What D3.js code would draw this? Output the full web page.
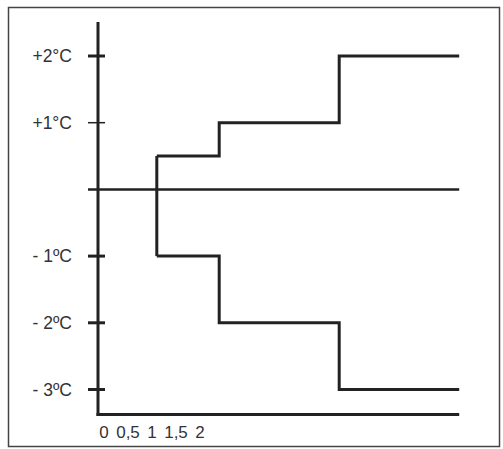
<!DOCTYPE html>
<html>
<head>
<meta charset="utf-8">
<script src="https://cdn.jsdelivr.net/npm/d3@7"></script>
<style>
  body { margin: 0; background: #fff; }
  svg { display: block; }
  text { font-family: "Liberation Sans", Arial, sans-serif; fill: #333; }
</style>
</head>
<body>
<div id="chart"></div>
<script>
// temperature levels on the y axis
var yTicks = [2, 1, -1, -2, -3];
var yLabels = ['+2°C', '+1°C', '- 1ºC', '- 2ºC', '- 3ºC'];

// x tick labels
var xTicks = [0, 0.5, 1, 1.5, 2];
var xLabels = ['0', '0,5', '1', '1,5', '2'];

// step series (x = time, y = temperature change)
var upperSteps = [
    { x: 1.1, y: 0.5 },
    { x: 2.4, y: 1 },
    { x: 4.9, y: 2 },
    { x: 7.4, y: 2 }
];
var lowerSteps = [
    { x: 1.1, y: -1 },
    { x: 2.4, y: -2 },
    { x: 4.9, y: -3 },
    { x: 7.4, y: -3 }
];

var width = 503, height = 449;

var svg = d3.select('#chart')
    .append('svg')
    .attr('width', width)
    .attr('height', height);

// outer frame
svg.append('rect')
    .attr('x', 8.5).attr('y', 7.5)
    .attr('width', 491).attr('height', 439)
    .attr('fill', 'none')
    .attr('stroke', '#444')
    .attr('stroke-width', 1.5);

var x = d3.scaleLinear().domain([0, 2]).range([104, 200]);
var y = d3.scaleLinear().domain([-3, 2]).range([389.5, 56]);

var ink = '#222';
var axisX = 98;
var xEnd = x(7.4);

// vertical axis
svg.append('line')
    .attr('x1', axisX).attr('x2', axisX)
    .attr('y1', 22).attr('y2', 416)
    .attr('stroke', ink).attr('stroke-width', 3);

// bottom axis
svg.append('line')
    .attr('x1', axisX - 1.5).attr('x2', xEnd)
    .attr('y1', 414.5).attr('y2', 414.5)
    .attr('stroke', ink).attr('stroke-width', 3);

// zero line
svg.append('line')
    .attr('x1', 88).attr('x2', xEnd)
    .attr('y1', y(0)).attr('y2', y(0))
    .attr('stroke', ink).attr('stroke-width', 2.5);

// y ticks
svg.selectAll('.ytick')
    .data(yTicks)
    .enter()
    .append('line')
    .attr('class', 'ytick')
    .attr('x1', 88).attr('x2', 105)
    .attr('y1', function(d) { return y(d); })
    .attr('y2', function(d) { return y(d); })
    .attr('stroke', ink)
    .attr('stroke-width', function(d) { return d === 1 ? 1.5 : 3; });

// y labels
svg.selectAll('.ylabel')
    .data(yTicks)
    .enter()
    .append('text')
    .attr('class', 'ylabel')
    .attr('x', 72)
    .attr('y', function(d) { return y(d) + 6; })
    .attr('text-anchor', 'end')
    .style('font-size', '17.5px')
    .text(function(d, i) { return yLabels[i]; });

// x labels
svg.selectAll('.xlabel')
    .data(xTicks)
    .enter()
    .append('text')
    .attr('class', 'xlabel')
    .attr('x', function(d) { return x(d); })
    .attr('y', 438)
    .attr('text-anchor', 'middle')
    .style('font-size', '17px')
    .text(function(d, i) { return xLabels[i]; });

// step lines
var step = d3.line()
    .x(function(d) { return x(d.x); })
    .y(function(d) { return y(d.y); })
    .curve(d3.curveStepAfter);

svg.append('path')
    .datum(upperSteps)
    .attr('d', step)
    .attr('fill', 'none')
    .attr('stroke', ink)
    .attr('stroke-width', 3);

svg.append('path')
    .datum(lowerSteps)
    .attr('d', step)
    .attr('fill', 'none')
    .attr('stroke', ink)
    .attr('stroke-width', 3);

// connecting vertical between the two series
svg.append('line')
    .attr('x1', x(upperSteps[0].x)).attr('x2', x(lowerSteps[0].x))
    .attr('y1', y(upperSteps[0].y)).attr('y2', y(lowerSteps[0].y))
    .attr('stroke', ink).attr('stroke-width', 3);
</script>
</body>
</html>
